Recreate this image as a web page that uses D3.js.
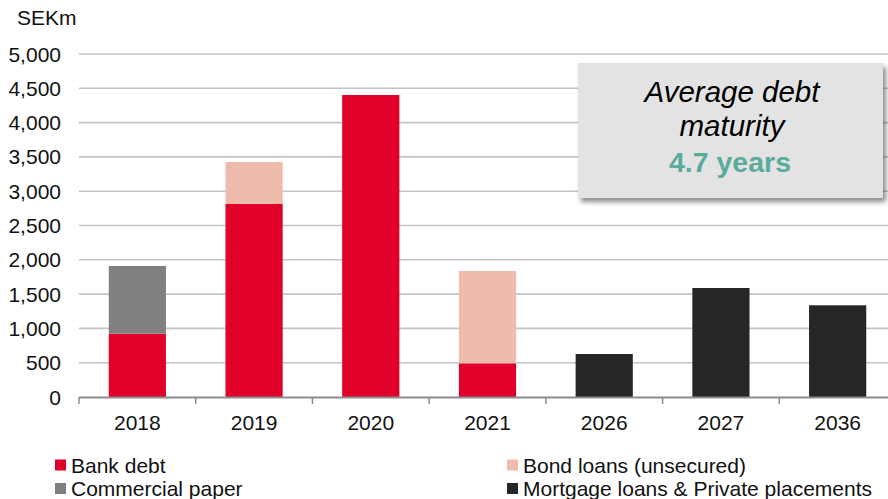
<!DOCTYPE html>
<html>
<head>
<meta charset="utf-8">
<script src="https://cdn.jsdelivr.net/npm/d3@7"></script>
<style>
  html, body { margin: 0; padding: 0; background: #fff; }
  svg { display: block; font-family: "Liberation Sans", Arial, sans-serif; }
</style>
</head>
<body>
<svg id="chart" width="888" height="499"></svg>
<script>
// Debt maturity profile, SEKm
const years = ["2018", "2019", "2020", "2021", "2026", "2027", "2036"];
const bankDebt = [923, 2818, 4402, 491, 0, 0, 0];
const commercialPaper = [987, 0, 0, 0, 0, 0, 0];
const bondLoans = [0, 608, 0, 1346, 0, 0, 0];
const mortgageLoans = [0, 0, 0, 0, 627, 1589, 1337];
const yTicks = [0, 500, 1000, 1500, 2000, 2500, 3000, 3500, 4000, 4500, 5000];

const seriesKeys = ["bank", "cp", "bond", "mortgage"];
const seriesNames = {
  bank: "Bank debt",
  cp: "Commercial paper",
  bond: "Bond loans (unsecured)",
  mortgage: "Mortgage loans & Private placements"
};
const colors = { bank: "#e1002a", cp: "#808080", bond: "#efbbad", mortgage: "#262626" };

const rows = years.map((y, i) => ({
  year: y, bank: bankDebt[i], cp: commercialPaper[i], bond: bondLoans[i], mortgage: mortgageLoans[i]
}));
const stacked = d3.stack().keys(seriesKeys)(rows);

const svg = d3.select("#chart");
const x = d3.scaleBand().domain(years).range([79, 896]).padding(0);
const y = d3.scaleLinear().domain([0, 5000]).range([397, 54]);
const barW = x.bandwidth() * 0.49;

const fmt = d3.format(",");
const labelSize = 21;

// gridlines
svg.append("g")
  .selectAll("line")
  .data(yTicks.filter(t => t > 0))
  .join("line")
  .attr("x1", 79).attr("x2", 888)
  .attr("y1", d => y(d)).attr("y2", d => y(d))
  .attr("stroke", "#c4c4c4").attr("stroke-width", 1.6);

// y tick labels
svg.append("g")
  .selectAll("text")
  .data(yTicks)
  .join("text")
  .attr("x", 61).attr("y", d => y(d))
  .attr("dy", "0.36em")
  .attr("text-anchor", "end")
  .attr("font-size", labelSize)
  .attr("fill", "#111")
  .text(d => fmt(d));

// unit label
svg.append("text")
  .attr("x", 17).attr("y", 25)
  .attr("font-size", labelSize).attr("fill", "#111")
  .text("SEKm");

// stacked bars
svg.append("g")
  .selectAll("g")
  .data(stacked)
  .join("g")
  .attr("fill", d => colors[d.key])
  .selectAll("rect")
  .data(d => d.filter(p => p[1] - p[0] > 0))
  .join("rect")
  .attr("x", d => x(d.data.year) + (x.bandwidth() - barW) / 2)
  .attr("width", barW)
  .attr("y", d => y(d[1]))
  .attr("height", d => y(d[0]) - y(d[1]));

// x axis with ticks on category boundaries
const xAxis = svg.append("g");
xAxis.append("line")
  .attr("x1", 79).attr("x2", 888)
  .attr("y1", 397.5).attr("y2", 397.5)
  .attr("stroke", "#8c8c8c").attr("stroke-width", 2);
xAxis.selectAll("line.tick")
  .data(years)
  .join("line")
  .attr("class", "tick")
  .attr("x1", d => x(d)).attr("x2", d => x(d))
  .attr("y1", 397).attr("y2", 404)
  .attr("stroke", "#8c8c8c").attr("stroke-width", 1.5);
xAxis.selectAll("text")
  .data(years)
  .join("text")
  .attr("x", d => x(d) + x.bandwidth() / 2)
  .attr("y", 429.5)
  .attr("text-anchor", "middle")
  .attr("font-size", labelSize)
  .attr("fill", "#111")
  .text(d => d);

// annotation box with drop shadow
const defs = svg.append("defs");
const f = defs.append("filter").attr("id", "shadow")
  .attr("x", "-10%").attr("y", "-10%").attr("width", "130%").attr("height", "140%");
f.append("feDropShadow")
  .attr("dx", 3).attr("dy", 4).attr("stdDeviation", 2.5)
  .attr("flood-color", "#000").attr("flood-opacity", 0.45);

svg.append("rect")
  .attr("x", 578).attr("y", 63)
  .attr("width", 305).attr("height", 135)
  .attr("fill", "#e3e3e3")
  .attr("filter", "url(#shadow)");

const boxText = svg.append("g").attr("text-anchor", "middle");
boxText.append("text")
  .attr("x", 732).attr("y", 102)
  .attr("font-size", 29.5).attr("font-style", "italic").attr("fill", "#000")
  .text("Average debt");
boxText.append("text")
  .attr("x", 732).attr("y", 136)
  .attr("font-size", 29.5).attr("font-style", "italic").attr("fill", "#000")
  .text("maturity");
boxText.append("text")
  .attr("x", 730).attr("y", 172)
  .attr("font-size", 28.5).attr("font-weight", "bold").attr("fill", "#5aab9b")
  .text("4.7 years");

// legend
const legendItems = [
  { key: "bank", x: 55, y: 465 },
  { key: "bond", x: 507, y: 465 },
  { key: "cp", x: 55, y: 488.5 },
  { key: "mortgage", x: 507, y: 488.5 }
];
const lg = svg.append("g")
  .selectAll("g")
  .data(legendItems)
  .join("g")
  .attr("transform", d => `translate(${d.x},${d.y})`);
lg.append("rect")
  .attr("x", 0).attr("y", -5.5)
  .attr("width", 11).attr("height", 11)
  .attr("fill", d => colors[d.key]);
lg.append("text")
  .attr("x", 16).attr("y", 0)
  .attr("dy", "0.36em")
  .attr("font-size", labelSize).attr("fill", "#111")
  .text(d => seriesNames[d.key]);
</script>
</body>
</html>
